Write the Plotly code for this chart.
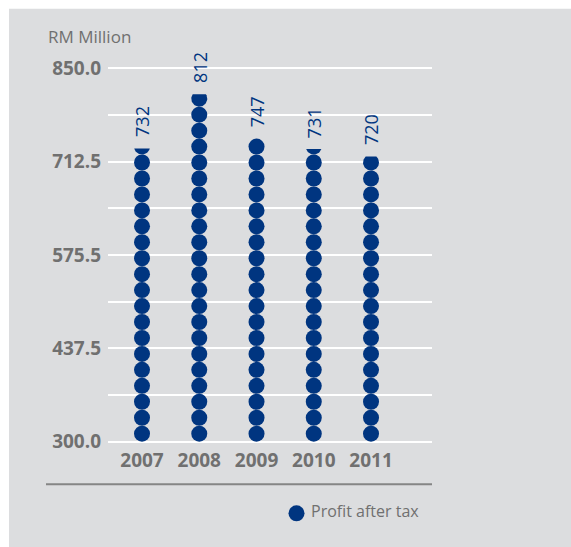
import numpy as np
import plotly.graph_objects as go

# ---- data ----
years = ["2007", "2008", "2009", "2010", "2011"]
profit = [732, 812, 747, 731, 720]
y_tickvals = [300.0, 437.5, 575.0, 712.5, 850.0]
y_ticktext = ["300.0", "437.5", "575.5", "712.5", "850.0"]
series_name = "Profit after tax"
unit_label = "RM Million"

# ---- style ----
W, H = 571, 547
BG = "#DCDDDF"
NAVY = "#003580"
GREY = "#707070"
FONT = "Open Sans"

# plot area in pixels
PL, PR, PT, PB = 108, 432, 68, 442
YMIN, YMAX = 300.0, 850.0
ypx_per_unit = (PB - PT) / (YMAX - YMIN)
pad_units = 2.0
yr = [YMIN - pad_units, YMAX + pad_units]
pad_px = pad_units * ypx_per_unit
xr = [-0.594, 5.065]
xunit_per_px = (xr[1] - xr[0]) / (PR - PL)
yunit_per_px = 1.0 / ypx_per_unit

STEP = 23.5          # data units per dot slot
DOT_PX = 16.0        # dot diameter in px


def px_to_paper_x(px):
    return (px - PL) / (PR - PL)


def px_to_paper_y(py):
    return (PB - py) / (PB - PT)


fig = go.Figure()

for i, v in enumerate(profit):
    n_full = int(np.floor((v - YMIN) / STEP + 1e-6))
    ys = [YMIN + STEP * (k + 0.5) for k in range(n_full)]
    fig.add_trace(go.Scatter(
        x=[i] * n_full, y=ys, mode="markers",
        marker=dict(size=DOT_PX, color=NAVY, line=dict(width=0)),
        showlegend=False, hoverinfo="skip"))
    frac = (v - YMIN) / STEP - n_full
    if frac > 0.08:
        yc = YMIN + STEP * (n_full + 0.5)
        r = DOT_PX / 2
        th = np.linspace(0, 2 * np.pi, 73)
        pts = [(i + r * np.cos(t) * xunit_per_px, yc + r * np.sin(t) * yunit_per_px) for t in th]
        # clip polygon to y <= v
        out = []
        for j in range(len(pts) - 1):
            a, b = pts[j], pts[j + 1]
            ina, inb = a[1] <= v, b[1] <= v
            if ina:
                out.append(a)
            if ina != inb:
                t = (v - a[1]) / (b[1] - a[1])
                out.append((a[0] + t * (b[0] - a[0]), v))
        out.append(out[0])
        fig.add_trace(go.Scatter(
            x=[p[0] for p in out], y=[p[1] for p in out], mode="lines",
            fill="toself", fillcolor=NAVY, line=dict(width=0, color=NAVY),
            showlegend=False, hoverinfo="skip"))
    fig.add_annotation(
        x=i, y=v, xref="x", yref="y", text=str(v), textangle=-90,
        showarrow=False, yanchor="bottom", xanchor="center", yshift=9,
        font=dict(family=FONT, size=18, color=NAVY))

# unit label
fig.add_annotation(
    x=px_to_paper_x(46), y=px_to_paper_y(38), xref="paper", yref="paper",
    text=unit_label, showarrow=False, xanchor="left", yanchor="middle",
    font=dict(family=FONT, size=17, color=GREY))

# separator line
fig.add_shape(type="line", xref="paper", yref="paper",
              x0=px_to_paper_x(46), x1=px_to_paper_x(432),
              y0=px_to_paper_y(483), y1=px_to_paper_y(483),
              line=dict(color="#858585", width=2))

# legend (marker + text)
fig.add_shape(type="circle", xref="paper", yref="paper",
              xsizemode="pixel", ysizemode="pixel",
              xanchor=px_to_paper_x(296.5), yanchor=px_to_paper_y(512),
              x0=-8, x1=8, y0=-8, y1=8,
              fillcolor=NAVY, line=dict(width=0))
fig.add_annotation(
    x=px_to_paper_x(309), y=px_to_paper_y(510), xref="paper", yref="paper",
    text=series_name, showarrow=False, xanchor="left", yanchor="middle",
    font=dict(family=FONT, size=16, color=GREY))

# white outer border strips (top and left)
fig.add_shape(type="rect", xref="paper", yref="paper", layer="below",
              x0=px_to_paper_x(0), x1=px_to_paper_x(W + 5),
              y0=px_to_paper_y(10), y1=px_to_paper_y(-5),
              fillcolor="white", line=dict(width=0))
fig.add_shape(type="rect", xref="paper", yref="paper", layer="below",
              x0=px_to_paper_x(-5), x1=px_to_paper_x(9),
              y0=px_to_paper_y(H + 5), y1=px_to_paper_y(-5),
              fillcolor="white", line=dict(width=0))

fig.update_layout(
    width=W, height=H, autosize=False,
    margin=dict(l=PL, r=W - PR, t=PT - pad_px, b=H - PB - pad_px, pad=0),
    paper_bgcolor=BG, plot_bgcolor="rgba(0,0,0,0)",
    showlegend=False,
    xaxis=dict(range=xr, tickmode="array", tickvals=list(range(len(years))),
               ticktext=years, showgrid=False, zeroline=False, showline=False,
               ticks="", ticklabelstandoff=4, fixedrange=True,
               tickfont=dict(family=FONT, size=19, color=GREY, weight="bold")),
    yaxis=dict(range=yr, tickmode="array", tickvals=y_tickvals, ticktext=y_ticktext,
               showgrid=True, gridcolor="white", gridwidth=2, zeroline=False,
               showline=False, ticks="", ticklabelstandoff=6, fixedrange=True,
               tickfont=dict(family=FONT, size=19, color=GREY, weight="bold"),
               minor=dict(tickmode="linear", tick0=300, dtick=68.75,
                          showgrid=True, gridcolor="white", gridwidth=2)),
)

fig.write_html("out.html")
